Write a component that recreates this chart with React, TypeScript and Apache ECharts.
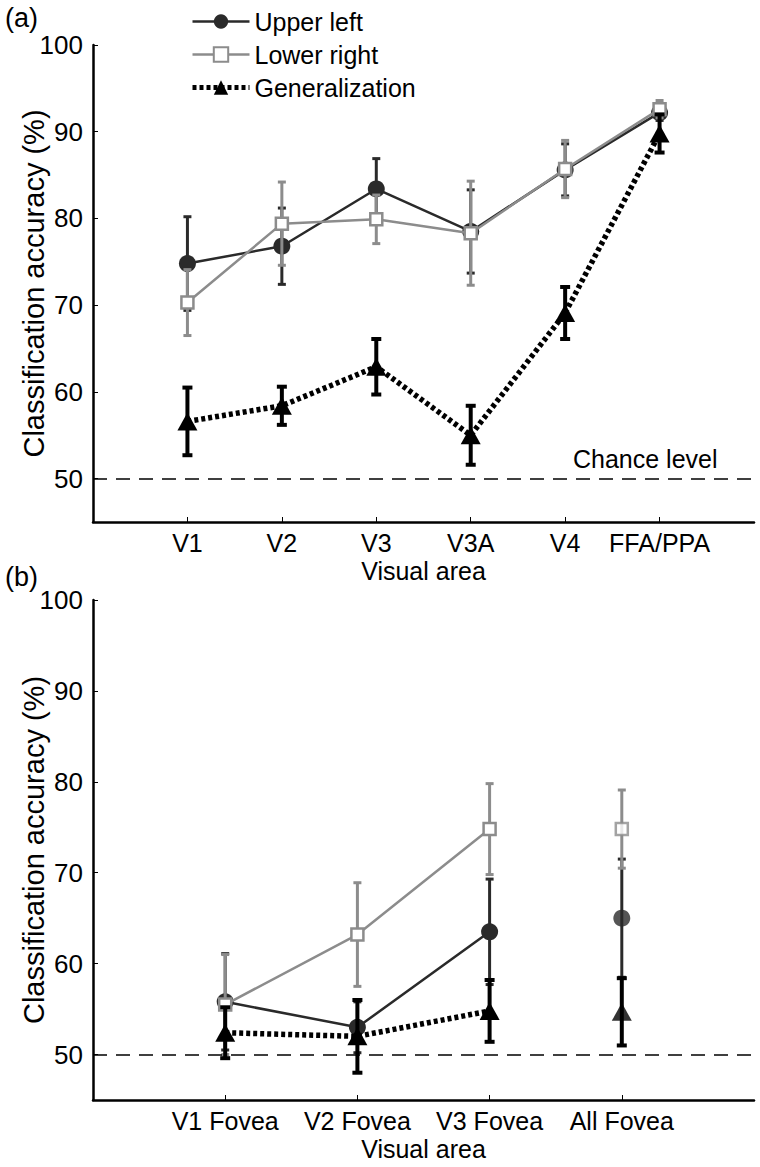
import React, { useEffect, useRef } from 'react';
import * as echarts from 'echarts';

const FONT = "'Liberation Sans', Arial, Helvetica, sans-serif";

// Panel (a)
const areasA = ['V1', 'V2', 'V3', 'V3A', 'V4', 'FFA/PPA'];
const upperLeftA = [74.8, 76.8, 83.4, 78.5, 85.6, 92.2];
const upperLeftErrA = [5.4, 4.4, 3.5, 4.8, 3.0, 0.9];
const lowerRightA = [70.3, 79.4, 79.9, 78.3, 85.7, 92.6];
const lowerRightErrA = [3.8, 4.8, 2.8, 6.0, 3.3, 1.0];
const generalizationA = [56.6, 58.4, 62.9, 55.0, 69.1, 89.8];
const generalizationErrA = [3.9, 2.2, 3.2, 3.4, 3.0, 2.2];

// Panel (b) — the first three areas are joined by lines, "All Fovea" stands alone
const areasB = ['V1 Fovea', 'V2 Fovea', 'V3 Fovea', 'All Fovea'];
const joinedB = 3;
const upperLeftB = [55.8, 53.0, 63.5, 65.0];
const upperLeftErrB = [5.3, 2.8, 5.8, 6.5];
const lowerRightB = [55.5, 63.2, 74.8, 74.8];
const lowerRightErrB = [5.5, 5.7, 5.0, 4.3];
const generalizationB = [52.4, 52.0, 54.8, 54.7];
const generalizationErrB = [2.8, 4.0, 3.4, 3.7];

const yTicks = [50, 60, 70, 80, 90, 100];
const seriesNames = ['Upper left', 'Lower right', 'Generalization'];
const chanceLevel = 50;

const C_UL = '#2a2a2a';
const C_LR = '#8c8c8c';
const C_GEN = '#000000';

function pts(vals: number[]) {
  return vals.map((v, i) => [i + 1, v]);
}
function errs(vals: number[], e: number[]) {
  return vals.map((v, i) => [i + 1, v - e[i], v + e[i]]);
}

function errRender(color: string, width: number, cap: number) {
  return (params: any, api: any) => {
    const x = api.value(0);
    const lo = api.value(1);
    const hi = api.value(2);
    const t = api.coord([x, hi]);
    const b = api.coord([x, lo]);
    const style = { stroke: color, lineWidth: width };
    return {
      type: 'group',
      children: [
        { type: 'line', shape: { x1: t[0], y1: t[1], x2: b[0], y2: b[1] }, style },
        { type: 'line', shape: { x1: t[0] - cap, y1: t[1], x2: t[0] + cap, y2: t[1] }, style },
        { type: 'line', shape: { x1: b[0] - cap, y1: b[1], x2: b[0] + cap, y2: b[1] }, style },
      ],
    };
  };
}

function xAxis(gridIndex: number, cats: string[]) {
  return {
    type: 'value',
    gridIndex,
    min: 0,
    max: cats.length + 1,
    splitLine: { show: false },
    axisLine: { show: true, onZero: false, lineStyle: { color: '#000', width: 2.5 } },
    axisTick: {
      show: true,
      inside: true,
      length: 5,
      customValues: cats.map((_, i) => i + 1),
      lineStyle: { color: '#000', width: 1 },
    },
    axisLabel: {
      show: true,
      customValues: cats.map((_, i) => i + 1),
      formatter: (v: number) => cats[Math.round(v) - 1] ?? '',
      color: '#000',
      fontSize: 25,
      fontFamily: FONT,
      margin: 8,
    },
    name: 'Visual area',
    nameLocation: 'middle',
    nameGap: 36,
    nameMoveOverlap: false,
    nameTextStyle: { color: '#000', fontSize: 25, fontFamily: FONT },
  };
}

function yAxis(gridIndex: number) {
  return {
    type: 'value',
    gridIndex,
    min: 45,
    max: 100,
    splitLine: { show: false },
    axisLine: { show: true, onZero: false, lineStyle: { color: '#000', width: 2.5 } },
    axisTick: { show: true, inside: true, length: 5, customValues: yTicks, lineStyle: { color: '#000', width: 1 } },
    axisLabel: { show: true, customValues: yTicks, color: '#000', fontSize: 26, fontFamily: FONT, margin: 10 },
    name: 'Classification accuracy (%)',
    nameLocation: 'middle',
    nameGap: 45,
    nameMoveOverlap: false,
    nameTextStyle: { color: '#000', fontSize: 29, fontFamily: FONT },
  };
}

function lineSeries(name: string, ax: any, z: number, data: number[][], style: any) {
  return { type: 'line', name, ...ax, z, data, ...style };
}

function panelSeries(
  idx: number,
  ul: number[], ulE: number[],
  lr: number[], lrE: number[],
  gen: number[], genE: number[],
  joined: number,
) {
  const ax = { xAxisIndex: idx, yAxisIndex: idx };
  const ulStyle = {
    symbol: 'circle', symbolSize: 17,
    lineStyle: { color: C_UL, width: 2.5 },
    itemStyle: { color: C_UL },
  };
  const lrStyle = {
    symbol: 'rect', symbolSize: 12,
    lineStyle: { color: C_LR, width: 2.5 },
    itemStyle: { color: '#ffffff', borderColor: C_LR, borderWidth: 2.5 },
  };
  const genStyle = {
    symbol: 'triangle', symbolSize: [20, 18],
    lineStyle: { color: C_GEN, width: 5.5, type: [4, 3], cap: 'butt' },
    itemStyle: { color: C_GEN },
  };
  const out: any[] = [
    {
      type: 'custom', ...ax, z: 1, silent: true,
      renderItem: errRender(C_UL, 3, 4),
      encode: { x: 0, y: [1, 2] },
      data: errs(ul, ulE),
    },
    lineSeries(seriesNames[0], ax, 2, pts(ul).slice(0, joined), ulStyle),
    {
      type: 'custom', ...ax, z: 3, silent: true,
      renderItem: errRender(C_LR, 3, 4),
      encode: { x: 0, y: [1, 2] },
      data: errs(lr, lrE),
    },
    lineSeries(seriesNames[1], ax, 4, pts(lr).slice(0, joined), lrStyle),
    {
      type: 'custom', ...ax, z: 5, silent: true,
      renderItem: errRender(C_GEN, 4, 5),
      encode: { x: 0, y: [1, 2] },
      data: errs(gen, genE),
    },
    {
      ...lineSeries(seriesNames[2], ax, 6, pts(gen).slice(0, joined), genStyle),
      markLine: {
        silent: true,
        symbol: 'none',
        label: { show: false },
        lineStyle: { color: '#000', width: 1.5, type: [14, 9] },
        data: [{ yAxis: chanceLevel }],
      },
    },
  ];
  if (joined < ul.length) {
    // stand-alone points (not joined by a line)
    out.push({ type: 'scatter', ...ax, z: 2, data: pts(ul).slice(joined), symbol: ulStyle.symbol, symbolSize: ulStyle.symbolSize, itemStyle: ulStyle.itemStyle });
    out.push({ type: 'scatter', ...ax, z: 4, data: pts(lr).slice(joined), symbol: lrStyle.symbol, symbolSize: lrStyle.symbolSize, itemStyle: lrStyle.itemStyle });
    out.push({ type: 'scatter', ...ax, z: 6, data: pts(gen).slice(joined), symbol: genStyle.symbol, symbolSize: genStyle.symbolSize, itemStyle: genStyle.itemStyle });
  }
  return out;
}

export default function App() {
  const ref = useRef<HTMLDivElement>(null);
  useEffect(() => {
    if (!ref.current) return;
    const chart = echarts.init(ref.current, null, { renderer: 'svg' });
    chart.setOption({
      animation: false,
      backgroundColor: '#ffffff',
      textStyle: { fontFamily: FONT },
      grid: [
        { left: 93, top: 45, width: 661, height: 477, outerBoundsMode: 'none', containLabel: false },
        { left: 93, top: 600, width: 661, height: 500, outerBoundsMode: 'none', containLabel: false },
      ],
      xAxis: [xAxis(0, areasA), xAxis(1, areasB)],
      yAxis: [yAxis(0), yAxis(1)],
      legend: {
        orient: 'vertical',
        left: 185,
        top: 4,
        itemWidth: 57,
        itemHeight: 18,
        itemGap: 8,
        data: [
          { name: seriesNames[0], lineStyle: { width: 2.5 } },
          { name: seriesNames[1], lineStyle: { width: 2.5 } },
          { name: seriesNames[2], lineStyle: { width: 5, type: [4, 3] } },
        ],
        textStyle: { color: '#000', fontSize: 25, fontFamily: FONT },
      },
      graphic: [
        { type: 'text', left: 5, top: 4, style: { text: '(a)', fontSize: 27, fontFamily: FONT, fill: '#000' } },
        { type: 'text', left: 5, top: 563, style: { text: '(b)', fontSize: 27, fontFamily: FONT, fill: '#000' } },
        { type: 'text', left: 573, top: 446, style: { text: 'Chance level', fontSize: 25, fontFamily: FONT, fill: '#000' } },
      ],
      series: [
        ...panelSeries(0, upperLeftA, upperLeftErrA, lowerRightA, lowerRightErrA, generalizationA, generalizationErrA, areasA.length),
        ...panelSeries(1, upperLeftB, upperLeftErrB, lowerRightB, lowerRightErrB, generalizationB, generalizationErrB, joinedB),
      ],
    });
    return () => chart.dispose();
  }, []);
  return (
    <div
      ref={ref}
      style={{ position: 'absolute', left: 0, top: 0, width: 760, height: 1167, background: '#fff' }}
    />
  );
}
